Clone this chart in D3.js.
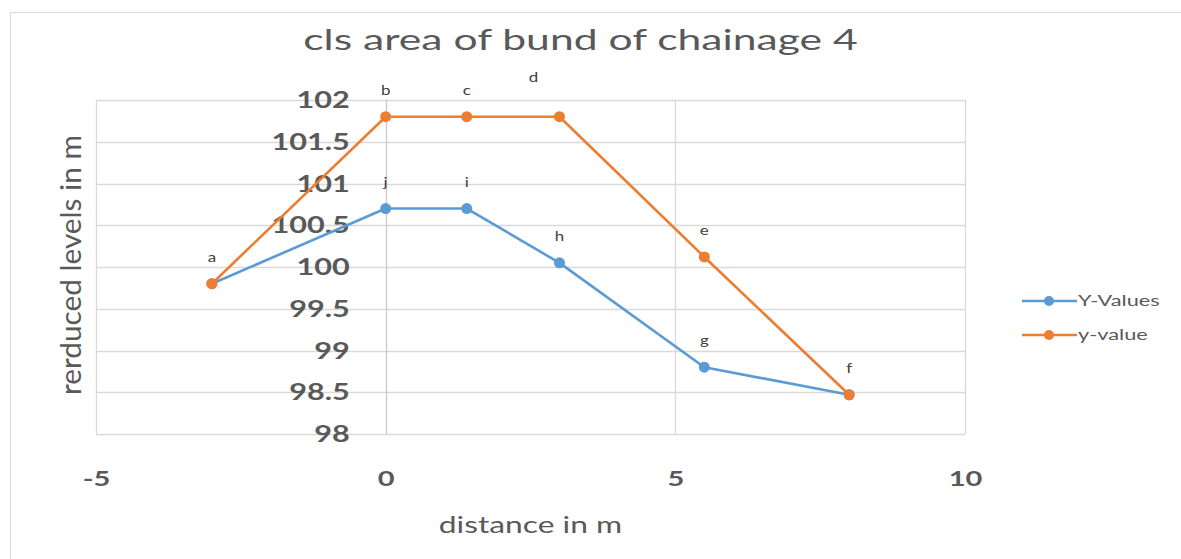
<!DOCTYPE html>
<html><head><meta charset="utf-8">
<script src="https://cdn.jsdelivr.net/npm/d3@7"></script>
<style>
body{margin:0;background:#fff;}
svg{display:block;}
</style></head>
<body>
<svg id="chart" width="1181" height="559"></svg>
<script>
// ---- data ----
const title = "cls area of bund of chainage 4";
const xTitle = "distance in m";
const yTitle = "rerduced levels in m";
const seriesNames = ["Y-Values", "y-value"];
const blueX = [-3, 0, 1.4, 3, 5.5, 8];
const blueY = [99.8, 100.7, 100.7, 100.05, 98.8, 98.47];
const blueLabels = ["", "j", "i", "h", "g", ""];
const orangeX = [-3, 0, 1.4, 3, 5.5, 8];
const orangeY = [99.8, 101.8, 101.8, 101.8, 100.12, 98.47];
const orangeLabels = ["a", "b", "c", "d", "e", "f"];
const xTicks = [-5, 0, 5, 10];
const yTicks = [98, 98.5, 99, 99.5, 100, 100.5, 101, 101.5, 102];

// ---- layout ----
const svg = d3.select("#chart");
const W = 1181, H = 559;
const plot = {left: 96, right: 965, top: 100, bottom: 434};
const x = d3.scaleLinear().domain([-5, 10]).range([plot.left, plot.right]);
const y = d3.scaleLinear().domain([98, 102]).range([plot.bottom, plot.top]);
const colors = ["#5B9BD5", "#ED7D31"];
const grid = "#d9d9d9";
const textCol = "#595959";
const font = "Lato, 'Liberation Sans', sans-serif";

// widen text horizontally (the reference glyphs are stretched)
function stretch(sel, f) {
  sel.each(function() {
    const L = this.getComputedTextLength();
    this.setAttribute("textLength", L * f);
    this.setAttribute("lengthAdjust", "spacingAndGlyphs");
  });
}

// chart border
svg.append("rect").attr("x", 10.5).attr("y", 12.5).attr("width", W + 10).attr("height", H + 10)
  .attr("fill", "#fff").attr("stroke", "#d9d9d9").attr("stroke-width", 1);

// title
stretch(svg.append("text").attr("x", 580.5).attr("y", 50).attr("text-anchor", "middle")
  .attr("font-family", font).attr("font-size", 29).attr("fill", textCol).text(title), 1.47);

// gridlines horizontal
svg.append("g").selectAll("line").data(yTicks).join("line")
  .attr("x1", plot.left).attr("x2", plot.right)
  .attr("y1", d => Math.round(y(d)) + 0.5).attr("y2", d => Math.round(y(d)) + 0.5)
  .attr("stroke", grid).attr("stroke-width", 1.3);
// gridlines vertical
svg.append("g").selectAll("line").data(xTicks).join("line")
  .attr("y1", plot.top).attr("y2", plot.bottom)
  .attr("x1", d => Math.round(x(d)) + 0.5).attr("x2", d => Math.round(x(d)) + 0.5)
  .attr("stroke", d => d === 0 ? "#c8c8c8" : grid).attr("stroke-width", 1.3);

// y tick labels (axis crosses at x = 0)
const yAxis = d3.axisLeft(y).tickValues(yTicks).tickSize(0).tickPadding(36)
  .tickFormat(d => String(d));
const gy = svg.append("g").attr("transform", `translate(${x(0)},0)`).call(yAxis);
gy.select(".domain").remove();
gy.selectAll("text").attr("font-family", font).attr("font-size", 23).attr("font-weight", "bold")
  .attr("fill", textCol).attr("dy", "0.33em");
stretch(gy.selectAll("text"), 1.33);

// x tick labels
const xAxis = d3.axisBottom(x).tickValues(xTicks).tickSize(0).tickPadding(52)
  .tickFormat(d => String(d));
const gx = svg.append("g").attr("transform", `translate(0,${plot.bottom})`).call(xAxis);
gx.select(".domain").remove();
gx.selectAll("text").attr("font-family", font).attr("font-size", 20).attr("font-weight", "bold")
  .attr("fill", textCol).attr("dy", "0");
stretch(gx.selectAll("text"), 1.45);

// axis titles
stretch(svg.append("text").attr("x", 530.5).attr("y", 533).attr("text-anchor", "middle")
  .attr("font-family", font).attr("font-size", 23).attr("fill", textCol).text(xTitle), 1.38);
const yt = svg.append("text").attr("transform", "translate(81,265) rotate(-90)").attr("text-anchor", "middle")
  .attr("font-family", font).attr("font-size", 28).attr("fill", textCol).text(yTitle);
yt.attr("textLength", 260).attr("lengthAdjust", "spacingAndGlyphs");

// series
const series = [
  {name: seriesNames[0], xs: blueX, ys: blueY, labels: blueLabels, color: colors[0]},
  {name: seriesNames[1], xs: orangeX, ys: orangeY, labels: orangeLabels, color: colors[1]}
];
const line = d3.line().x(d => x(d[0])).y(d => y(d[1]));
series.forEach(s => {
  const pts = s.xs.map((v, i) => [v, s.ys[i], s.labels[i]]);
  const g = svg.append("g");
  g.append("path").datum(pts).attr("d", line).attr("fill", "none")
    .attr("stroke", s.color).attr("stroke-width", 2.6).attr("stroke-linejoin", "round");
  g.selectAll("circle").data(pts).join("circle")
    .attr("cx", d => x(d[0])).attr("cy", d => y(d[1])).attr("r", 5.5).attr("fill", s.color);
  const t = g.selectAll("text").data(pts.filter(d => d[2])).join("text")
    .attr("x", d => x(d[0]) + (d[2] === "d" ? -26 : 0))
    .attr("y", d => y(d[1]) - (d[2] === "d" ? 35 : 22))
    .attr("text-anchor", "middle").attr("font-family", font).attr("font-size", 13)
    .attr("fill", "#404040").text(d => d[2]);
  stretch(t, 1.3);
});

// legend
const lg = svg.append("g").attr("transform", "translate(1022,301)");
series.forEach((s, i) => {
  const gi = lg.append("g").attr("transform", `translate(0,${i * 34})`);
  gi.append("line").attr("x1", 0).attr("x2", 55).attr("y1", 0).attr("y2", 0)
    .attr("stroke", s.color).attr("stroke-width", 2.6);
  gi.append("circle").attr("cx", 27).attr("cy", 0).attr("r", 5).attr("fill", s.color);
  stretch(gi.append("text").attr("x", 56).attr("y", 0).attr("dy", "0.35em")
    .attr("font-family", font).attr("font-size", 14.5).attr("fill", textCol).text(s.name), 1.5);
});
</script>
</body></html>
